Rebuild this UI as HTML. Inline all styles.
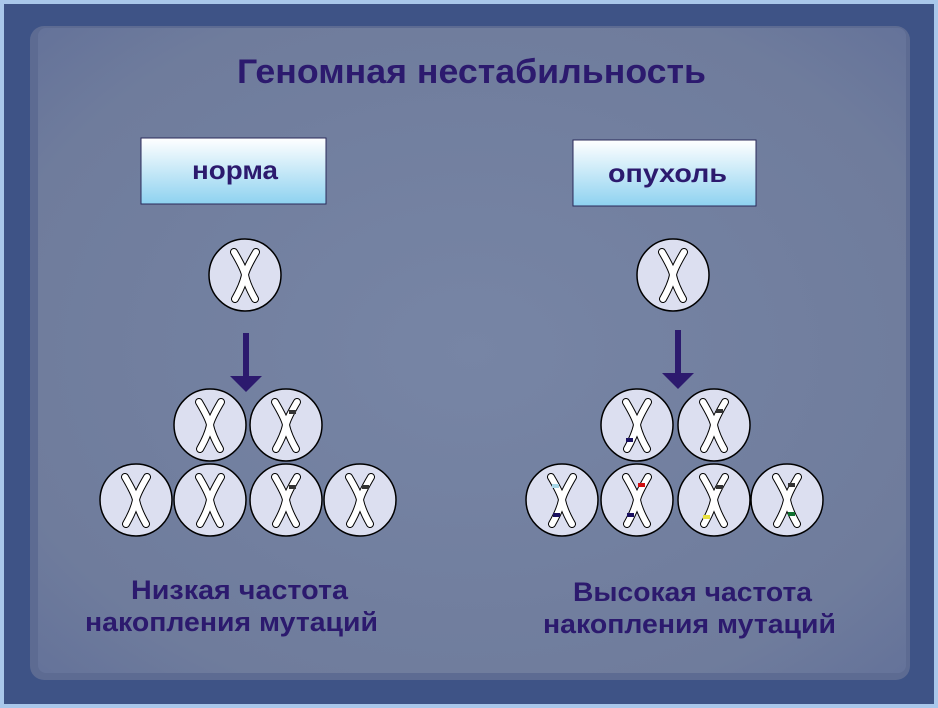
<!DOCTYPE html>
<html><head><meta charset="utf-8"><style>
html,body{margin:0;padding:0;background:#a9c7ea;}
svg{display:block}
text{font-family:"Liberation Sans",sans-serif;font-weight:bold;fill:#2c1a6e}
</style></head><body>
<svg width="938" height="708" viewBox="0 0 938 708" xmlns="http://www.w3.org/2000/svg">
<defs>
<linearGradient id="bx" x1="0" y1="0" x2="0" y2="1"><stop offset="0" stop-color="#ffffff"/><stop offset="1" stop-color="#8ed2f0"/></linearGradient>
<radialGradient id="pn" cx="0.5" cy="0.5" r="0.7"><stop offset="0" stop-color="#7785a5"/><stop offset="0.8" stop-color="#6f7c9c"/><stop offset="1" stop-color="#65739a"/></radialGradient>
<g id="ch">
<g fill="none" stroke-linecap="round">
<path d="M-11,-23 Q-1,-6 0,0 Q-2,10 -10,24" stroke="#000" stroke-width="8"/>
<path d="M11,-23 Q1,-6 0,0 Q2,10 10,24" stroke="#000" stroke-width="8"/>
<path d="M-11,-23 Q-1,-6 0,0 Q-2,10 -10,24" stroke="#fff" stroke-width="6"/>
<path d="M11,-23 Q1,-6 0,0 Q2,10 10,24" stroke="#fff" stroke-width="6"/>
</g></g>
<g id="cell"><circle r="36" fill="#dcdff0" stroke="#000" stroke-width="1.5"/><use href="#ch"/></g>
</defs>
<rect x="4" y="4" width="930" height="700" fill="#3e5386"/>
<rect x="30" y="26" width="880" height="654" rx="14" fill="#5d6b92"/>
<rect x="38" y="28" width="868" height="645" rx="8" fill="url(#pn)"/>
<text x="237" y="83" font-size="34" textLength="469" lengthAdjust="spacingAndGlyphs">Геномная нестабильность</text>
<rect x="141" y="138" width="185" height="66" fill="url(#bx)" stroke="#2a2a5a"/>
<text x="192" y="179" font-size="26" textLength="86" lengthAdjust="spacingAndGlyphs">норма</text>
<rect x="573" y="140" width="183" height="66" fill="url(#bx)" stroke="#2a2a5a"/>
<text x="608" y="182" font-size="26" textLength="119" lengthAdjust="spacingAndGlyphs">опухоль</text>
<g fill="#2c1a6e"><rect x="243" y="333" width="6" height="46"/><polygon points="230,376 262,376 246,392"/>
<rect x="675" y="330" width="6" height="46"/><polygon points="662,373 694,373 678,389"/></g>
<use href="#cell" x="245" y="275"/>
<use href="#cell" x="210" y="425"/><use href="#cell" x="286" y="425"/>
<use href="#cell" x="136" y="500"/><use href="#cell" x="210" y="500"/><use href="#cell" x="286" y="500"/><use href="#cell" x="360" y="500"/>
<use href="#cell" x="673" y="275"/>
<use href="#cell" x="637" y="425"/><use href="#cell" x="714" y="425"/>
<use href="#cell" x="562" y="500"/><use href="#cell" x="637" y="500"/><use href="#cell" x="714" y="500"/><use href="#cell" x="787" y="500"/>
<g>
<rect x="289" y="410" width="7" height="4" fill="#333"/>
<rect x="289" y="485" width="7" height="4" fill="#333"/>
<rect x="362" y="485" width="7" height="4" fill="#333"/>
<rect x="626" y="438" width="7" height="4" fill="#1a1060"/>
<rect x="716" y="409" width="7" height="4" fill="#333"/>
<rect x="552" y="484" width="7" height="4" fill="#a8d8e8"/>
<rect x="553" y="513" width="7" height="4" fill="#1a1060"/>
<rect x="638" y="483" width="7" height="4" fill="#d01010"/>
<rect x="627" y="513" width="7" height="4" fill="#1a1060"/>
<rect x="716" y="485" width="7" height="4" fill="#333"/>
<rect x="703" y="515" width="7" height="4" fill="#e8e040"/>
<rect x="788" y="483" width="7" height="4" fill="#333"/>
<rect x="788" y="512" width="7" height="4" fill="#107030"/>
</g>
<text x="131" y="599" font-size="27" textLength="217" lengthAdjust="spacingAndGlyphs">Низкая частота</text>
<text x="85" y="631" font-size="27" textLength="293" lengthAdjust="spacingAndGlyphs">накопления мутаций</text>
<text x="573" y="601" font-size="27" textLength="239" lengthAdjust="spacingAndGlyphs">Высокая частота</text>
<text x="543" y="633" font-size="27" textLength="293" lengthAdjust="spacingAndGlyphs">накопления мутаций</text>
</svg>
</body></html>
